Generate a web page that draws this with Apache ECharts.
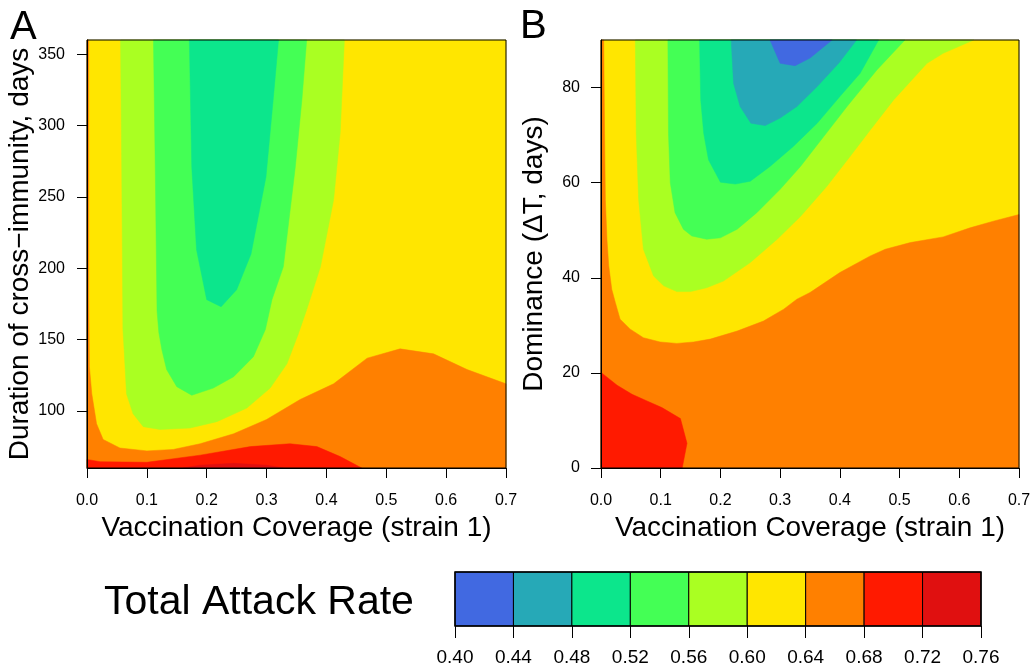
<!DOCTYPE html>
<html lang="en">
<head>
    <meta charset="UTF-8">
    <title>Total Attack Rate contours</title>
    <style>
        html, body { margin: 0; padding: 0; background: #fff; }
        #main { width: 1034px; height: 668px; }
    </style>
    <script type="text/javascript" src="https://cdn.jsdelivr.net/npm/echarts/dist/echarts.min.js"></script>
</head>
<body>
<div id="main"></div>
<script type="text/javascript">
    // colour key: band edges and fills
    var colorTicks = [0.40, 0.44, 0.48, 0.52, 0.56, 0.60, 0.64, 0.68, 0.72, 0.76];
    var bandColors = ['#4169E1', '#26A9B7', '#0CE68C', '#44FF55', '#AAFF22', '#FFE600', '#FF8000', '#FF1A00', '#E01010'];

    var xTicks = [0, 0.1, 0.2, 0.3, 0.4, 0.5, 0.6, 0.7];
    var yTicksA = [100, 150, 200, 250, 300, 350];
    var yTicksB = [0, 20, 40, 60, 80];

    // panel A: contour regions [coverage, duration]
    var aFrame = [[0, 60], [0.7, 60], [0.7, 360], [0, 360]];
    var aBand56 = [[0.056, 360], [0.058, 271], [0.060, 157], [0.062, 143], [0.066, 112], [0.077, 98], [0.094, 89],
        [0.122, 87], [0.172, 88], [0.217, 92.5], [0.267, 102], [0.306, 116], [0.334, 133], [0.353, 154],
        [0.367, 171], [0.390, 201], [0.412, 248], [0.423, 295], [0.430, 360]];
    var aBand52 = [[0.111, 360], [0.114, 271], [0.117, 170], [0.120, 155], [0.125, 143], [0.133, 129], [0.150, 117],
        [0.175, 111], [0.211, 116], [0.245, 124], [0.278, 138], [0.298, 157], [0.309, 178], [0.328, 201],
        [0.348, 271], [0.359, 318], [0.367, 360]];
    var aBand48 = [[0.171, 360], [0.175, 271], [0.183, 213], [0.200, 178], [0.224, 173], [0.250, 185], [0.274, 210],
        [0.299, 264], [0.311, 318], [0.320, 360]];
    var aBand64 = [[0, 360], [0.003, 360], [0.003, 180], [0.004, 131], [0.008, 112], [0.016, 91], [0.027, 80],
        [0.055, 74], [0.100, 72], [0.144, 73], [0.189, 77], [0.245, 84], [0.300, 94], [0.356, 108], [0.412, 119],
        [0.468, 137], [0.523, 143.5], [0.579, 140], [0.635, 129], [0.7, 119], [0.7, 60], [0, 60]];
    var aBand68 = [[0, 60], [0, 66], [0.022, 64.4], [0.100, 64], [0.189, 69], [0.273, 75], [0.339, 77], [0.384, 75],
        [0.423, 68], [0.459, 60]];
    var aBand72 = [[0.161, 60], [0.189, 62], [0.245, 63.3], [0.300, 62], [0.328, 60]];

    // panel B: contour regions [coverage, dominance]
    var bFrame = [[0, 0], [0.7, 0], [0.7, 90], [0, 90]];
    var bBand64 = [[0, 90], [0.0045, 90], [0.006, 70.4], [0.0073, 56.5], [0.010, 48], [0.013, 42.5], [0.018, 37.6],
        [0.024, 34.8], [0.032, 31.3], [0.049, 29.2], [0.071, 27.4], [0.099, 26.5], [0.127, 26.2], [0.155, 26.5],
        [0.183, 27.1], [0.228, 28.8], [0.272, 30.9], [0.306, 33.4], [0.328, 35.5], [0.350, 36.9], [0.400, 41.1],
        [0.451, 44.6], [0.476, 46], [0.518, 47.4], [0.573, 48.6], [0.618, 50.5], [0.657, 51.9], [0.7, 53.3],
        [0.7, 0], [0, 0]];
    var bBand68 = [[0, 0], [0, 20.1], [0.027, 17.4], [0.052, 15.5], [0.077, 14.1], [0.102, 12.7], [0.133, 10.4],
        [0.144, 5.2], [0.136, 0]];
    var bBand56 = [[0.0575, 90], [0.059, 70.4], [0.063, 56.5], [0.071, 46], [0.088, 40.4], [0.105, 38.3],
        [0.127, 37.1], [0.150, 37.1], [0.177, 37.9], [0.205, 39.3], [0.250, 43.2], [0.295, 48.1], [0.334, 52.9],
        [0.378, 59.2], [0.417, 65.5], [0.451, 71.1], [0.490, 77.4], [0.546, 85.1], [0.573, 87.2], [0.624, 90]];
    var bBand52 = [[0.112, 90], [0.113, 70.4], [0.116, 60], [0.124, 53.7], [0.138, 50.2], [0.152, 48.8],
        [0.177, 48.1], [0.200, 48.4], [0.228, 50.2], [0.261, 53.7], [0.300, 58.6], [0.334, 63.4], [0.373, 69.7],
        [0.412, 76], [0.462, 83.7], [0.509, 90]];
    var bBand48 = [[0.165, 90], [0.167, 77.4], [0.172, 70.4], [0.180, 64.8], [0.200, 60.1], [0.225, 59.7],
        [0.250, 60.3], [0.283, 63.4], [0.322, 67.6], [0.362, 72.5], [0.400, 78.1], [0.434, 83], [0.465, 90]];
    var bBand44 = [[0.218, 90], [0.222, 80.9], [0.233, 76], [0.251, 72.5], [0.275, 72], [0.300, 73.6],
        [0.328, 76], [0.362, 80.2], [0.398, 85.1], [0.428, 90]];
    var bBand40 = [[0.283, 90], [0.300, 85.1], [0.325, 84.6], [0.350, 86.2], [0.387, 90]];

    // each region: [attack rate inside, outline]
    var regionsA = [[0.62, aFrame], [0.58, aBand56], [0.54, aBand52], [0.50, aBand48],
        [0.66, aBand64], [0.70, aBand68], [0.74, aBand72]];
    var regionsB = [[0.62, bFrame], [0.66, bBand64], [0.70, bBand68], [0.58, bBand56],
        [0.54, bBand52], [0.50, bBand48], [0.46, bBand44], [0.42, bBand40]];

    function bandColor(v) {
        for (var i = 0; i < colorTicks.length - 1; i++) {
            if (v >= colorTicks[i] && v < colorTicks[i + 1]) return bandColors[i];
        }
        return bandColors[bandColors.length - 1];
    }

    function contourRender(regions) {
        return function (params, api) {
            var r = regions[params.dataIndex];
            var pts = r[1].map(function (p) { return api.coord(p); });
            var c = bandColor(r[0]);
            return {
                type: 'polygon',
                shape: { points: pts },
                style: { fill: c, stroke: c, lineWidth: 0.5 }
            };
        };
    }

    var font = 'Liberation Sans';
    var tickStyle = { show: true, length: 10, lineStyle: { color: '#000', width: 1 } };

    function xAxisFor(grid) {
        return {
            type: 'value', gridIndex: grid, min: 0, max: 0.7,
            name: 'Vaccination Coverage (strain 1)', nameLocation: 'middle', nameGap: 43,
            nameTextStyle: { fontFamily: font, fontSize: 28, color: '#000' },
            axisLine: { show: true, lineStyle: { color: '#000', width: 1 } },
            axisTick: Object.assign({ customValues: xTicks }, tickStyle),
            axisLabel: { customValues: xTicks, margin: 25, fontFamily: font, fontSize: 16, color: '#000',
                formatter: function (v) { return v.toFixed(1); } },
            splitLine: { show: false }, z: 5
        };
    }

    var echart = echarts.init(document.getElementById('main'));
    var option = {
        animation: false,
        backgroundColor: '#fff',
        grid: [
            { left: 87, top: 40, width: 419, height: 428, show: true, borderColor: '#000', borderWidth: 1, backgroundColor: 'transparent', z: 5 },
            { left: 601, top: 40, width: 418, height: 428, show: true, borderColor: '#000', borderWidth: 1, backgroundColor: 'transparent', z: 5 },
            { left: 455, top: 572, width: 526, height: 54, show: true, borderColor: '#000', borderWidth: 1.5, backgroundColor: 'transparent', z: 5 }
        ],
        xAxis: [
            xAxisFor(0),
            xAxisFor(1),
            {
                type: 'value', gridIndex: 2, min: 0.40, max: 0.76,
                axisLine: { show: false },
                axisTick: { show: true, customValues: colorTicks, length: 12, lineStyle: { color: '#000' } },
                axisLabel: { customValues: colorTicks, margin: 22, fontFamily: font, fontSize: 19, color: '#000',
                    formatter: function (v) { return v.toFixed(2); } },
                splitLine: { show: false }
            }
        ],
        yAxis: [
            {
                type: 'value', gridIndex: 0, min: 60, max: 360,
                name: 'Duration of cross\u2212immunity, days', nameLocation: 'middle', nameGap: 48,
                nameTextStyle: { fontFamily: font, fontSize: 28, color: '#000' },
                axisLine: { show: true, lineStyle: { color: '#000' } },
                axisTick: Object.assign({ customValues: yTicksA }, tickStyle),
                axisLabel: { customValues: yTicksA, margin: 22, fontFamily: font, fontSize: 16, color: '#000' },
                splitLine: { show: false }, z: 5
            },
            {
                type: 'value', gridIndex: 1, min: 0, max: 90,
                name: 'Dominance (\u0394T, days)', nameLocation: 'middle', nameGap: 53,
                nameTextStyle: { fontFamily: font, fontSize: 28, color: '#000' },
                axisLine: { show: true, lineStyle: { color: '#000' } },
                axisTick: Object.assign({ customValues: yTicksB }, tickStyle),
                axisLabel: { customValues: yTicksB, margin: 21, fontFamily: font, fontSize: 16, color: '#000' },
                splitLine: { show: false }, z: 5
            },
            { type: 'value', gridIndex: 2, min: 0, max: 1, show: false }
        ],
        graphic: [
            { type: 'text', left: 10, top: 8, style: { text: 'A', font: '40px "Liberation Sans"', fill: '#000' } },
            { type: 'text', left: 520, top: 7, style: { text: 'B', font: '40px "Liberation Sans"', fill: '#000' } },
            { type: 'text', left: 104, top: 582, style: { text: 'Total Attack Rate', font: '41px "Liberation Sans"', fill: '#000' } }
        ],
        series: [
            {
                type: 'custom', xAxisIndex: 0, yAxisIndex: 0, z: 1, silent: true,
                data: regionsA.map(function (r, i) { return [i, r[0]]; }),
                renderItem: contourRender(regionsA)
            },
            {
                type: 'custom', xAxisIndex: 1, yAxisIndex: 1, z: 1, silent: true,
                data: regionsB.map(function (r, i) { return [i, r[0]]; }),
                renderItem: contourRender(regionsB)
            },
            {
                type: 'custom', xAxisIndex: 2, yAxisIndex: 2, z: 1, silent: true,
                data: colorTicks.slice(0, -1).map(function (lo, i) { return [lo, colorTicks[i + 1]]; }),
                renderItem: function (params, api) {
                    var p0 = api.coord([api.value(0), 1]);
                    var p1 = api.coord([api.value(1), 0]);
                    return {
                        type: 'rect',
                        shape: { x: p0[0], y: p0[1], width: p1[0] - p0[0], height: p1[1] - p0[1] },
                        style: { fill: bandColors[params.dataIndex], stroke: '#000', lineWidth: 1 }
                    };
                }
            }
        ]
    };
    echart.setOption(option);
</script>
</body>
</html>
